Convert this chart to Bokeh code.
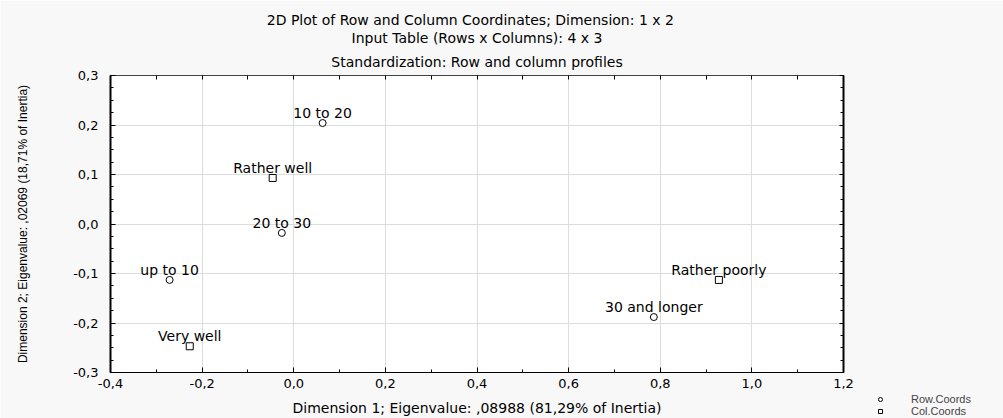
from bokeh.plotting import figure
from bokeh.layouts import column
from bokeh.models import (Range1d, LinearAxis, Title, Legend, LegendItem, ColumnDataSource,
                          FixedTicker, LabelSet, CustomJSTickFormatter, Grid)
from bokeh.core.properties import value
from bokeh.embed import file_html
from bokeh.resources import INLINE

# ---- data ----
row_labels = ["up to 10", "10 to 20", "20 to 30", "30 and longer"]
row_x = [-0.271, 0.063, -0.026, 0.786]
row_y = [-0.113, 0.204, -0.018, -0.188]
col_labels = ["Very well", "Rather well", "Rather poorly"]
col_x = [-0.227, -0.046, 0.928]
col_y = [-0.247, 0.093, -0.113]
x_ticks = [-0.4, -0.2, 0.0, 0.2, 0.4, 0.6, 0.8, 1.0, 1.2]
x_minor = [-0.3, -0.1, 0.1, 0.3, 0.5, 0.7, 0.9, 1.1]
y_ticks = [-0.3, -0.2, -0.1, 0.0, 0.1, 0.2, 0.3]
y_minor = [round(-0.3 + 0.025 * i, 3) for i in range(25)]
titles = ["2D Plot of Row and Column Coordinates; Dimension:  1  x  2",
          "Input Table (Rows x Columns): 4 x 3",
          "Standardization: Row and column profiles"]
x_label = "Dimension 1; Eigenvalue: ,08988 (81,29% of Inertia)"
y_label = "Dimension 2; Eigenvalue: ,02069 (18,71% of Inertia)"
legend_labels = ["Row.Coords", "Col.Coords"]

FONT = "DejaVu Sans"
BG = "#f8f8f8"

p = figure(width=1003, height=418, output_backend="svg", toolbar_location=None,
           x_range=Range1d(-0.4, 1.2), y_range=Range1d(-0.3, 0.3),
           min_border_left=110, min_border_right=160, min_border_bottom=46,
           min_border_top=75, x_axis_type=None, y_axis_type=None)
p.border_fill_color = BG
p.background_fill_color = "white"
p.outline_line_color = "#444444"
p.outline_line_width = 1

fmt = CustomJSTickFormatter(code="return tick.toFixed(1).replace('.', ',');")
blank = CustomJSTickFormatter(code="return '';")

xaxis = LinearAxis(ticker=FixedTicker(ticks=x_ticks, minor_ticks=x_minor), formatter=fmt,
                   axis_label=x_label)
yaxis = LinearAxis(ticker=FixedTicker(ticks=y_ticks, minor_ticks=y_minor), formatter=fmt,
                   axis_label=y_label)
for ax in (xaxis, yaxis):
    ax.major_tick_in = 5
    ax.major_tick_out = 0
    ax.minor_tick_in = 3
    ax.minor_tick_out = 0
    ax.major_label_text_font = FONT
    ax.major_label_text_font_size = "13px"
    ax.major_label_text_color = "black"
    ax.axis_line_color = "black"
    ax.major_tick_line_color = "black"
    ax.minor_tick_line_color = "black"
    ax.axis_label_text_font_style = "normal"
    ax.axis_label_text_color = "black"
xaxis.axis_line_width = 1
xaxis.major_label_standoff = 6
xaxis.axis_label_text_font = FONT
xaxis.axis_label_text_font_size = "14px"
xaxis.axis_label_standoff = 9
yaxis.axis_line_width = 2
yaxis.major_label_standoff = 12
yaxis.axis_label_text_font = "Liberation Sans"
yaxis.axis_label_text_font_size = "12px"
yaxis.axis_label_standoff = 40
p.add_layout(xaxis, "below")
p.add_layout(yaxis, "left")

# mirrored axes (ticks only)
top_axis = LinearAxis(ticker=FixedTicker(ticks=[round(-0.4 + 0.1 * i, 2) for i in range(17)],
                                         minor_ticks=[]), formatter=blank)
right_axis = LinearAxis(ticker=FixedTicker(ticks=y_ticks, minor_ticks=y_minor), formatter=blank)
for ax in (top_axis, right_axis):
    ax.major_label_text_font_size = "0px"
    ax.major_label_standoff = 0
    ax.major_tick_in = 4
    ax.major_tick_out = 0
    ax.minor_tick_in = 3
    ax.minor_tick_out = 0
    ax.major_tick_line_color = "black"
    ax.minor_tick_line_color = "black"
top_axis.axis_line_color = "#444444"
top_axis.major_label_standoff = 3
right_axis.axis_line_color = "black"
right_axis.axis_line_width = 2
p.add_layout(top_axis, "above")
p.add_layout(right_axis, "right")

for i, t in reversed(list(enumerate(titles))):
    p.add_layout(Title(text=t, align="center", text_font=FONT, text_font_size="14px",
                       text_font_style="normal", text_color="black",
                       standoff=12 if i == 2 else 0), "above")

# grid
p.add_layout(Grid(dimension=0, ticker=xaxis.ticker, grid_line_color="#dcdcdc", grid_line_width=1))
p.add_layout(Grid(dimension=1, ticker=yaxis.ticker, grid_line_color="#dcdcdc", grid_line_width=1))

row_src = ColumnDataSource(dict(x=row_x, y=row_y, label=row_labels))
col_src = ColumnDataSource(dict(x=col_x, y=col_y, label=col_labels))

marker_style = dict(fill_color="white", line_color="black", line_width=1)
p.scatter("x", "y", source=row_src, marker="circle", size=7, **marker_style)
p.scatter("x", "y", source=col_src, marker="square", size=7, **marker_style)

for src in (row_src, col_src):
    p.add_layout(LabelSet(x="x", y="y", text="label", source=src, text_align="center",
                          text_baseline="alphabetic", y_offset=5, text_font=value(FONT),
                          text_font_size="14px", text_color="black"))

# ---- legend: small overlay figure placed at the bottom-right corner ----
lg = figure(width=120, height=24, output_backend="svg", toolbar_location=None,
            x_range=Range1d(0, 1), y_range=Range1d(0, 1),
            min_border=0, x_axis_type=None, y_axis_type=None)
lg.outline_line_color = None
lg.background_fill_alpha = 0
lg.border_fill_alpha = 0
lg.grid.visible = False
# one hidden sample each (outside the view) so that the legend can draw its markers
lr_row = lg.scatter(x=[5], y=[5], marker="circle", size=5, **marker_style)
lr_col = lg.scatter(x=[5], y=[5], marker="square", size=5, **marker_style)
legend = Legend(items=[LegendItem(label=legend_labels[0], renderers=[lr_row]),
                       LegendItem(label=legend_labels[1], renderers=[lr_col])],
                location="top_left", orientation="vertical",
                label_text_font="Liberation Sans", label_text_font_size="11px",
                label_height=11, glyph_height=10, glyph_width=10, spacing=0,
                padding=0, margin=0, label_standoff=26,
                background_fill_alpha=0, border_line_alpha=0)
lg.add_layout(legend, "center")
lg.margin = (-25, 0, 0, 875)

layout = column(p, lg, spacing=0)
open("out.html", "w").write(file_html(layout, INLINE))
